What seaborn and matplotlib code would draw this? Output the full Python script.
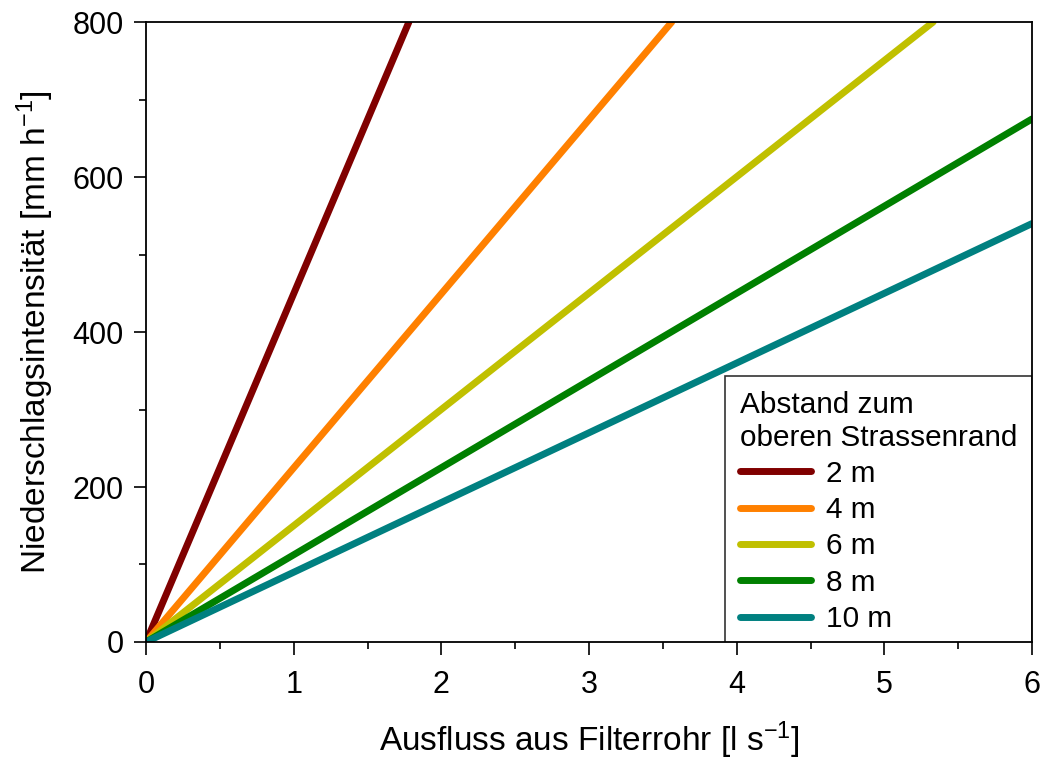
import matplotlib
matplotlib.use("Agg")
import matplotlib.pyplot as plt
import seaborn as sns
import pandas as pd
from matplotlib.ticker import MultipleLocator

# Data: line endpoints (start at origin)
labels = ["2 m", "4 m", "6 m", "8 m", "10 m"]
x_end = [1.78, 3.56, 5.33, 6.0, 6.0]
y_end = [800, 800, 800, 675, 540]
colors = ["#800000", "#FF8000", "#C0C000", "#008000", "#008080"]

rows = []
for lab, xe, ye in zip(labels, x_end, y_end):
    rows.append({"x": 0.0, "y": 0.0, "Abstand": lab})
    rows.append({"x": xe, "y": ye, "Abstand": lab})
df = pd.DataFrame(rows)

sns.set_theme(style="ticks")
plt.rcParams["font.family"] = ["Liberation Sans", "DejaVu Sans"]
plt.rcParams["mathtext.fontset"] = "custom"
plt.rcParams["mathtext.rm"] = "Liberation Sans"
plt.rcParams["text.color"] = "black"
plt.rcParams["axes.labelcolor"] = "black"

fig = plt.figure(figsize=(10.43, 7.61), dpi=100)
ax = fig.add_axes([0.14, 0.1564, 0.8495, 0.8146])

sns.lineplot(data=df, x="x", y="y", hue="Abstand", hue_order=labels,
             palette=colors, linewidth=5, ax=ax, estimator=None,
             sort=False, legend=True)
for ln in ax.lines:
    ln.set_solid_capstyle("round")

ax.set_xlim(0, 6)
ax.set_ylim(0, 800)
ax.xaxis.set_major_locator(MultipleLocator(1))
ax.xaxis.set_minor_locator(MultipleLocator(0.5))
ax.yaxis.set_major_locator(MultipleLocator(200))
ax.yaxis.set_minor_locator(MultipleLocator(100))
ax.tick_params(which="major", direction="out", length=9, width=1.2,
               labelsize=22, colors="black", pad=7)
ax.tick_params(axis="x", which="major", pad=11.5)
ax.tick_params(which="minor", direction="out", length=5, width=1.2, colors="black")
for s in ax.spines.values():
    s.set_visible(True)
    s.set_linewidth(1.3)
    s.set_color("black")
    s.set_zorder(3)

ax.set_xlabel(r"Ausfluss aus Filterrohr [l s$\mathregular{^{-1}}$]", fontsize=24,
              labelpad=14, color="black")
ax.set_ylabel(r"Niederschlagsintensität [mm h$\mathregular{^{-1}}$]", fontsize=24,
              labelpad=12, color="black")

handles, labs = ax.get_legend_handles_labels()
leg = ax.legend(handles, labs, title="Abstand zum\noberen Strassenrand",
                loc="lower right", bbox_to_anchor=(1.0, -6.0 / 620.0),
                borderaxespad=0, fontsize=21.4,
                title_fontsize=21.4, frameon=True, fancybox=False,
                edgecolor="black", handlelength=2.4, handletextpad=0.5,
                labelspacing=0.28, alignment="left", borderpad=0.5)
leg.set_zorder(2.5)
leg.get_frame().set_linewidth(1.2)
leg.legendPatch.set_clip_box(ax.bbox)
leg.legendPatch.set_clip_on(True)
for t in leg.get_texts():
    t.set_color("black")
leg.get_title().set_color("black")
for h in leg.get_lines():
    h.set_linewidth(5)

fig.savefig("out.png", dpi=100)
